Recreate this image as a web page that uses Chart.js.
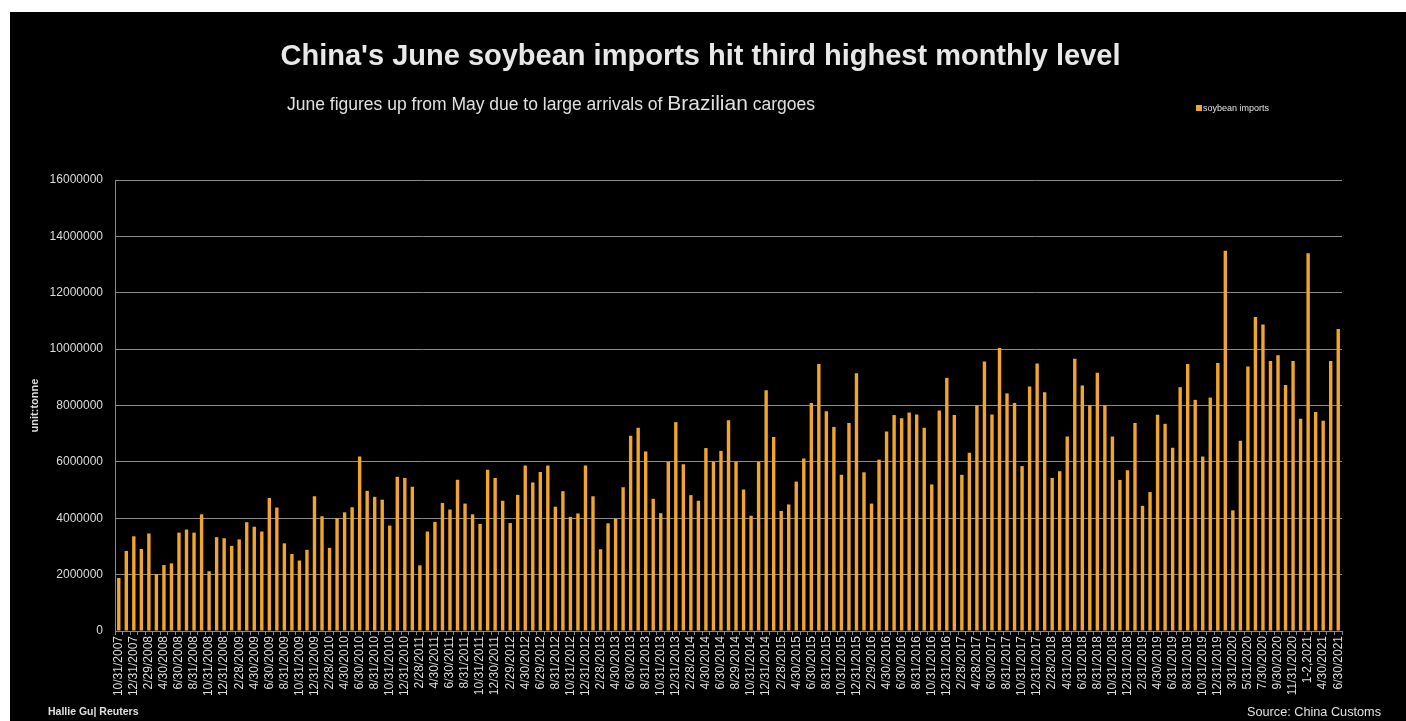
<!DOCTYPE html>
<html>
<head>
<meta charset="utf-8">
<script src="https://cdn.jsdelivr.net/npm/chart.js@4"></script>
<style>
  html, body { margin: 0; padding: 0; background: #fff; }
  #frame { position: absolute; left: 10px; top: 12px; width: 1396px; height: 709px; background: #000; }
  #wrap { position: absolute; left: 0; top: 0; width: 1406px; height: 721px; }
  .txt { position: absolute; font-family: "Liberation Sans", Arial, sans-serif; color: #e8e8e8; white-space: nowrap; }
  #title { left: 0; width: 1401px; top: 39px; text-align: center; font-size: 29px; font-weight: bold; line-height: 32px; }
  #subtitle { left: 287px; top: 91px; font-size: 17.5px; line-height: 24px; color: #e0e0e0; }
  #subtitle span { font-size: 21px; }
  #legend { left: 1196px; top: 101px; font-size: 9px; line-height: 14px; color: #e0e0e0; }
  #legend i { display: inline-block; width: 6px; height: 6px; background: #f2a52b; margin-right: 1px; vertical-align: 0px; }
  #credit { left: 48px; top: 704px; font-size: 10.5px; font-weight: bold; line-height: 14px; color: #e0e0e0; }
  #source { left: 1247px; top: 705px; font-size: 12.7px; line-height: 14px; color: #e0e0e0; }
</style>
</head>
<body>
<div id="frame"></div>
<div id="wrap"><canvas id="chart" width="1406" height="721"></canvas></div>
<div class="txt" id="title">China's June soybean imports hit third highest monthly level</div>
<div class="txt" id="subtitle">June figures up from May due to large arrivals of <span>Brazilian</span> cargoes</div>
<div class="txt" id="legend"><i></i>soybean imports</div>
<div class="txt" id="credit">Hallie Gu| Reuters</div>
<div class="txt" id="source">Source: China Customs</div>
<script>
// month-end dates as labelled in the source sheet (Jan-Feb combined from 2020)
const periods = [
  "10/31/2007", "11/30/2007", "12/31/2007",
  "1/31/2008", "2/29/2008", "3/31/2008", "4/30/2008", "5/31/2008", "6/30/2008",
  "7/31/2008", "8/31/2008", "9/30/2008", "10/31/2008", "11/30/2008", "12/31/2008",
  "1/31/2009", "2/28/2009", "3/31/2009", "4/30/2009", "5/31/2009", "6/30/2009",
  "7/31/2009", "8/31/2009", "9/30/2009", "10/31/2009", "11/30/2009", "12/31/2009",
  "1/31/2010", "2/28/2010", "3/31/2010", "4/30/2010", "5/31/2010", "6/30/2010",
  "7/31/2010", "8/31/2010", "9/30/2010", "10/31/2010", "11/30/2010", "12/31/2010",
  "1/31/2011", "2/28/2011", "3/31/2011", "4/30/2011", "5/31/2011", "6/30/2011",
  "7/29/2011", "8/31/2011", "9/30/2011", "10/31/2011", "11/30/2011", "12/30/2011",
  "1/31/2012", "2/29/2012", "3/30/2012", "4/30/2012", "5/31/2012", "6/29/2012",
  "7/31/2012", "8/31/2012", "9/28/2012", "10/31/2012", "11/30/2012", "12/31/2012",
  "1/31/2013", "2/28/2013", "3/29/2013", "4/30/2013", "5/31/2013", "6/30/2013",
  "7/31/2013", "8/31/2013", "9/30/2013", "10/31/2013", "11/29/2013", "12/31/2013",
  "1/31/2014", "2/28/2014", "3/31/2014", "4/30/2014", "5/30/2014", "6/30/2014",
  "7/31/2014", "8/29/2014", "9/30/2014", "10/31/2014", "11/28/2014", "12/31/2014",
  "1/30/2015", "2/28/2015", "3/31/2015", "4/30/2015", "5/29/2015", "6/30/2015",
  "7/31/2015", "8/31/2015", "9/30/2015", "10/31/2015", "11/30/2015", "12/31/2015",
  "1/29/2016", "2/29/2016", "3/31/2016", "4/30/2016", "5/31/2016", "6/30/2016",
  "7/29/2016", "8/31/2016", "9/30/2016", "10/31/2016", "11/30/2016", "12/31/2016",
  "1/31/2017", "2/28/2017", "3/31/2017", "4/28/2017", "5/31/2017", "6/30/2017",
  "7/31/2017", "8/31/2017", "9/29/2017", "10/31/2017", "11/30/2017", "12/31/2017",
  "1/31/2018", "2/28/2018", "3/31/2018", "4/31/2018", "5/31/2018", "6/31/2018",
  "7/31/2018", "8/31/2018", "9/30/2018", "10/31/2018", "11/30/2018", "12/31/2018",
  "1/31/2019", "2/31/2019", "3/31/2019", "4/30/2019", "5/31/2019", "6/31/2019",
  "7/31/2019", "8/31/2019", "9/30/2019", "10/31/2019", "11/30/2019", "12/31/2019",
  "1-2,2020", "3/31/2020", "4/30/2020", "5/31/2020", "6/30/2020",
  "7/30/2020", "8/31/2020", "9/30/2020", "10/31/2020", "11/31/2020", "12/31/2020",
  "1-2,2021", "3/31/2021", "4/30/2021", "5/31/2021", "6/30/2021"
];

// tonnes
const imports = [
  1880000, 2840000, 3360000,
  2910000, 3460000, 2020000, 2340000, 2400000, 3490000,
  3600000, 3490000, 4140000, 2120000, 3330000, 3290000,
  3020000, 3250000, 3860000, 3700000, 3530000, 4720000,
  4380000, 3110000, 2730000, 2500000, 2880000, 4780000,
  4070000, 2950000, 4000000, 4210000, 4390000, 6190000,
  4970000, 4760000, 4660000, 3740000, 5470000, 5430000,
  5120000, 2330000, 3530000, 3870000, 4540000, 4310000,
  5370000, 4520000, 4140000, 3800000, 5720000, 5430000,
  4620000, 3830000, 4830000, 5870000, 5270000, 5640000,
  5870000, 4410000, 4960000, 4050000, 4170000, 5870000,
  4780000, 2900000, 3820000, 3980000, 5100000, 6930000,
  7210000, 6370000, 4690000, 4180000, 6000000, 7410000,
  5920000, 4820000, 4620000, 6490000, 6000000, 6390000,
  7480000, 6000000, 5020000, 4090000, 6000000, 8540000,
  6880000, 4260000, 4490000, 5300000, 6120000, 8090000,
  9470000, 7800000, 7240000, 5540000, 7380000, 9140000,
  5630000, 4520000, 6080000, 7080000, 7660000, 7550000,
  7750000, 7680000, 7210000, 5200000, 7820000, 8980000,
  7660000, 5540000, 6320000, 8010000, 9560000, 7680000,
  10040000, 8430000, 8090000, 5850000, 8670000, 9490000,
  8470000, 5430000, 5670000, 6900000, 9660000, 8710000,
  8010000, 9160000, 8010000, 6900000, 5360000, 5700000,
  7380000, 4440000, 4930000, 7670000, 7350000, 6500000,
  8650000, 9470000, 8200000, 6190000, 8280000, 9510000,
  13490000, 4280000, 6750000, 9380000, 11140000,
  10870000, 9580000, 9780000, 8730000, 9580000, 7530000,
  13400000, 7770000, 7460000, 9580000, 10710000
];

const yMax = 16000000;
const yStep = 2000000;

const barColor = "#f2a52b";
const gridColor = "#8a8a8a";
const labelColor = "#dcdcdc";
Chart.defaults.font.family = "'Liberation Sans', Arial, sans-serif";

const ctx = document.getElementById("chart").getContext("2d");
new Chart(ctx, {
  type: "bar",
  data: {
    labels: periods,
    datasets: [
      {
        label: "soybean imports",
        data: imports,
        backgroundColor: barColor,
        barPercentage: 0.5,
        categoryPercentage: 0.9,
      },
    ],
  },
  options: {
    responsive: false,
    animation: false,
    layout: { padding: { left: 28, top: 180, right: 64, bottom: 0 } },
    plugins: {
      legend: { display: false },
      tooltip: { enabled: false },
    },
    scales: {
      x: {
        offset: true,
        grid: { offset: true, drawOnChartArea: false, color: gridColor, tickLength: 4 },
        border: { color: gridColor },
        ticks: {
          autoSkip: false,
          maxRotation: 90,
          minRotation: 90,
          padding: 1,
          color: labelColor,
          font: { size: 12 },
          callback: function (value, index) {
            return index % 2 === 0 ? this.getLabelForValue(value) : "";
          },
        },
        afterFit: (scale) => {
          scale.height = 90;
        },
      },
      y: {
        min: 0,
        max: yMax,
        grid: { color: gridColor, drawTicks: false },
        border: { color: gridColor },
        ticks: {
          stepSize: yStep,
          padding: 12,
          color: labelColor,
          font: { size: 12 },
          callback: (v) => String(v),
        },
        title: {
          display: true,
          text: "unit:tonne",
          color: labelColor,
          font: { size: 11, weight: "bold" },
          padding: 0,
        },
        afterFit: (scale) => {
          scale.width = 87;
        },
      },
    },
  },
});
</script>
</body>
</html>
